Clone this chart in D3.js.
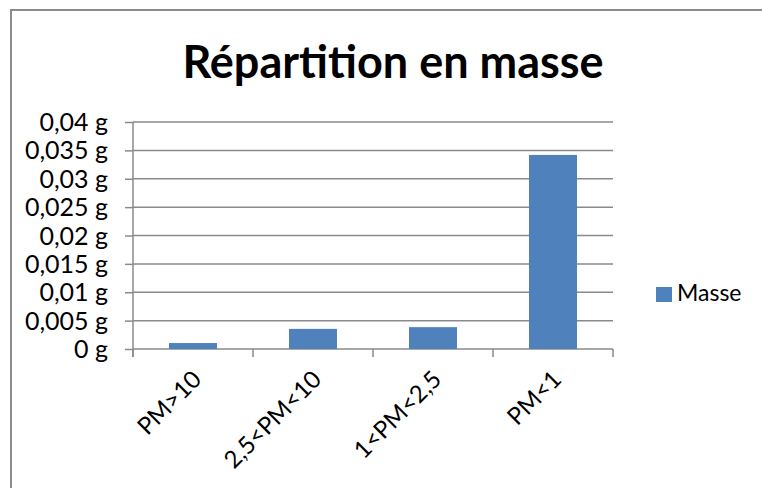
<!DOCTYPE html>
<html>
<head>
<meta charset="utf-8">
<script src="https://cdn.jsdelivr.net/npm/d3@7"></script>
<style>
  html, body { margin: 0; background: #fff; overflow: hidden; }
  svg { display: block; }
  svg text { font-family: Lato, "Open Sans", sans-serif; fill: #000; }
</style>
</head>
<body>
<svg class="chart" width="762" height="488"></svg>
<script>
var categories = ['PM>10', '2,5<PM<10', '1<PM<2,5', 'PM<1'];
var masse = [0.00105, 0.00355, 0.00385, 0.0342];
var yTicks = [0, 0.005, 0.01, 0.015, 0.02, 0.025, 0.03, 0.035, 0.04];
var seriesName = 'Masse';
var title = 'Répartition en masse';

var svg = d3.select('svg.chart');
var width = +svg.attr('width');
var height = +svg.attr('height');
var gridColor = '#8a8a8a';
var barColor = '#4f81bd';

// outer frame: only top and left edges are on the page
svg.append('path')
    .attr('d', 'M11,' + height + 'V10H' + width)
    .attr('fill', 'none')
    .attr('stroke', '#8c8c8c')
    .attr('stroke-width', 2);

var plotLeft = 133, plotRight = 613, plotTop = 122, plotBottom = 349;

var x = d3.scaleBand()
    .domain(categories)
    .range([plotLeft, plotRight])
    .paddingInner(0.6)
    .paddingOuter(0.3);

var y = d3.scaleLinear()
    .domain([0, 0.04])
    .range([plotBottom, plotTop]);

var fmt = function (d) {
    return (d === 0 ? '0' : d3.format('.3~f')(d).replace('.', ',')) + ' g';
};

// gridlines
svg.append('g')
    .selectAll('line')
    .data(yTicks.filter(function (d) { return d > 0; }))
    .enter()
    .append('line')
    .attr('x1', plotLeft).attr('x2', plotRight)
    .attr('y1', function (d) { return y(d); })
    .attr('y2', function (d) { return y(d); })
    .attr('stroke', gridColor)
    .attr('stroke-width', 1.5);

// y axis
var yAxis = svg.append('g')
    .attr('transform', 'translate(' + plotLeft + ',0)')
    .call(d3.axisLeft(y).tickValues(yTicks).tickFormat(fmt).tickSize(8).tickPadding(17));
yAxis.select('.domain').attr('stroke', gridColor).attr('stroke-width', 1.5)
    .attr('d', 'M0,' + plotTop + 'V' + (plotBottom + 8));
yAxis.selectAll('.tick line').attr('stroke', gridColor).attr('stroke-width', 1.5);
yAxis.selectAll('.tick text')
    .style('font-size', '25px')
    .attr('dy', '0.34em')
    .attr('fill', '#000');

// x axis
var xAxis = svg.append('g')
    .attr('transform', 'translate(0,' + plotBottom + ')');
xAxis.append('line')
    .attr('x1', plotLeft).attr('x2', plotRight)
    .attr('stroke', gridColor).attr('stroke-width', 1.5);
var edges = d3.range(categories.length + 1).map(function (i) {
    return plotLeft + i * (plotRight - plotLeft) / categories.length;
});
xAxis.selectAll('line.tk')
    .data(edges)
    .enter()
    .append('line')
    .attr('class', 'tk')
    .attr('x1', function (d) { return d; })
    .attr('x2', function (d) { return d; })
    .attr('y1', 0).attr('y2', 8)
    .attr('stroke', gridColor).attr('stroke-width', 1.5);

xAxis.selectAll('text')
    .data(categories)
    .enter()
    .append('text')
    .attr('text-anchor', 'end')
    .attr('transform', function (d) {
        return 'translate(' + (x(d) + x.bandwidth() / 2 - 2) + ',20) rotate(-45)';
    })
    .attr('dy', '0.7em')
    .style('font-size', '24px')
    .text(function (d) { return d; });

// bars
svg.append('g')
    .selectAll('rect')
    .data(masse)
    .enter()
    .append('rect')
    .attr('x', function (d, i) { return x(categories[i]); })
    .attr('width', x.bandwidth())
    .attr('y', function (d) { return y(d); })
    .attr('height', function (d) { return plotBottom - y(d); })
    .attr('fill', barColor);

// title
svg.append('text')
    .attr('x', 393).attr('y', 78)
    .attr('text-anchor', 'middle')
    .style('font-size', '45px')
    .style('font-weight', 'bold')
    .text(title);

// legend
svg.append('rect')
    .attr('x', 656).attr('y', 287)
    .attr('width', 16).attr('height', 15)
    .attr('fill', barColor);
svg.append('text')
    .attr('x', 677).attr('y', 301)
    .style('font-size', '23px')
    .text(seriesName);
</script>
</body>
</html>
